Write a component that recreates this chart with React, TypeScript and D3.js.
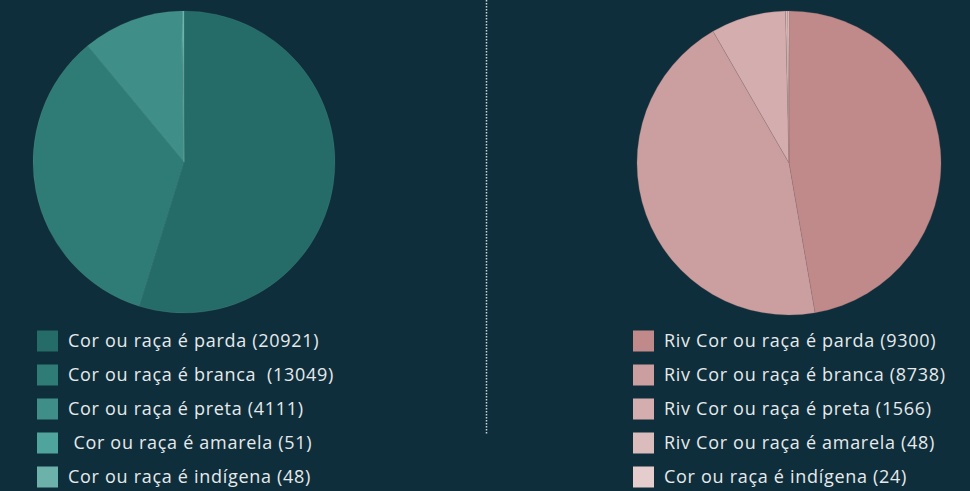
import React from "react";
import * as d3 from "d3";

const WIDTH = 970;
const HEIGHT = 491;
const BACKGROUND = "#0f2e3b";

// Pessoas por cor ou raça
const leftLabels = [
  "Cor ou raça é parda (20921)",
  "Cor ou raça é branca  (13049)",
  "Cor ou raça é preta (4111)",
  " Cor ou raça é amarela (51)",
  "Cor ou raça é indígena (48)",
];
const leftValues = [20921, 13049, 4111, 51, 48];
const leftColors = ["#256b68", "#2f7c76", "#3f8f88", "#4fa49d", "#6db2aa"];

// Riv: cor ou raça
const rightLabels = [
  "Riv Cor ou raça é parda (9300)",
  "Riv Cor ou raça é branca (8738)",
  "Riv Cor ou raça é preta (1566)",
  "Riv Cor ou raça é amarela (48)",
  "Cor ou raça é indígena (24)",
];
const rightValues = [9300, 8738, 1566, 48, 24];
const rightColors = ["#c0898a", "#cb9fa0", "#d4aeae", "#dabcbc", "#e5cdce"];

type PieProps = {
  values: number[];
  colors: string[];
  labels: string[];
  cx: number;
  cy: number;
  r: number;
  legendX: number;
  stroke: string;
};

function PieWithLegend({ values, colors, labels, cx, cy, r, legendX, stroke }: PieProps) {
  const pie = d3.pie<number>().sort(null).value((d) => d);
  const arc = d3.arc<d3.PieArcDatum<number>>().innerRadius(0).outerRadius(r);
  const arcs = pie(values);
  const legendY = d3.scaleBand<number>().domain(d3.range(labels.length)).range([324, 494]);
  return (
    <g>
      <g transform={`translate(${cx},${cy})`}>
        {arcs.map((a, i) => (
          <path key={i} d={arc(a) ?? ""} fill={colors[i]} stroke={stroke} strokeWidth={0.5} />
        ))}
      </g>
      {labels.map((lab, i) => {
        const y = legendY(i)! + legendY.bandwidth() / 2;
        return (
          <g key={i}>
            <rect x={legendX} y={y - 10.5} width={21} height={21} fill={colors[i]} />
            <text
              x={legendX + 31}
              y={y}
              dy="0.36em"
              fill="#e6eaeb"
              fontFamily="'Open Sans', sans-serif"
              fontSize={18}
              letterSpacing={0.7}
              style={{ whiteSpace: "pre" }}
            >
              {lab}
            </text>
          </g>
        );
      })}
    </g>
  );
}

export default function App() {
  return (
    <div style={{ position: "fixed", left: 0, top: 0, width: WIDTH, height: HEIGHT }}>
      <svg width={WIDTH} height={HEIGHT} style={{ display: "block" }}>
        <rect width={WIDTH} height={HEIGHT} fill={BACKGROUND} />
        <line
          x1={486.5}
          x2={486.5}
          y1={0}
          y2={434}
          stroke="#c9d6da"
          strokeWidth={1.5}
          strokeDasharray="1.5 1.5"
        />
        <PieWithLegend
          values={leftValues}
          colors={leftColors}
          labels={leftLabels}
          cx={184}
          cy={162}
          r={151}
          legendX={37}
          stroke="rgba(140,200,190,0.2)"
        />
        <PieWithLegend
          values={rightValues}
          colors={rightColors}
          labels={rightLabels}
          cx={789}
          cy={163}
          r={152}
          legendX={633}
          stroke="rgba(150,110,110,0.5)"
        />
      </svg>
    </div>
  );
}
